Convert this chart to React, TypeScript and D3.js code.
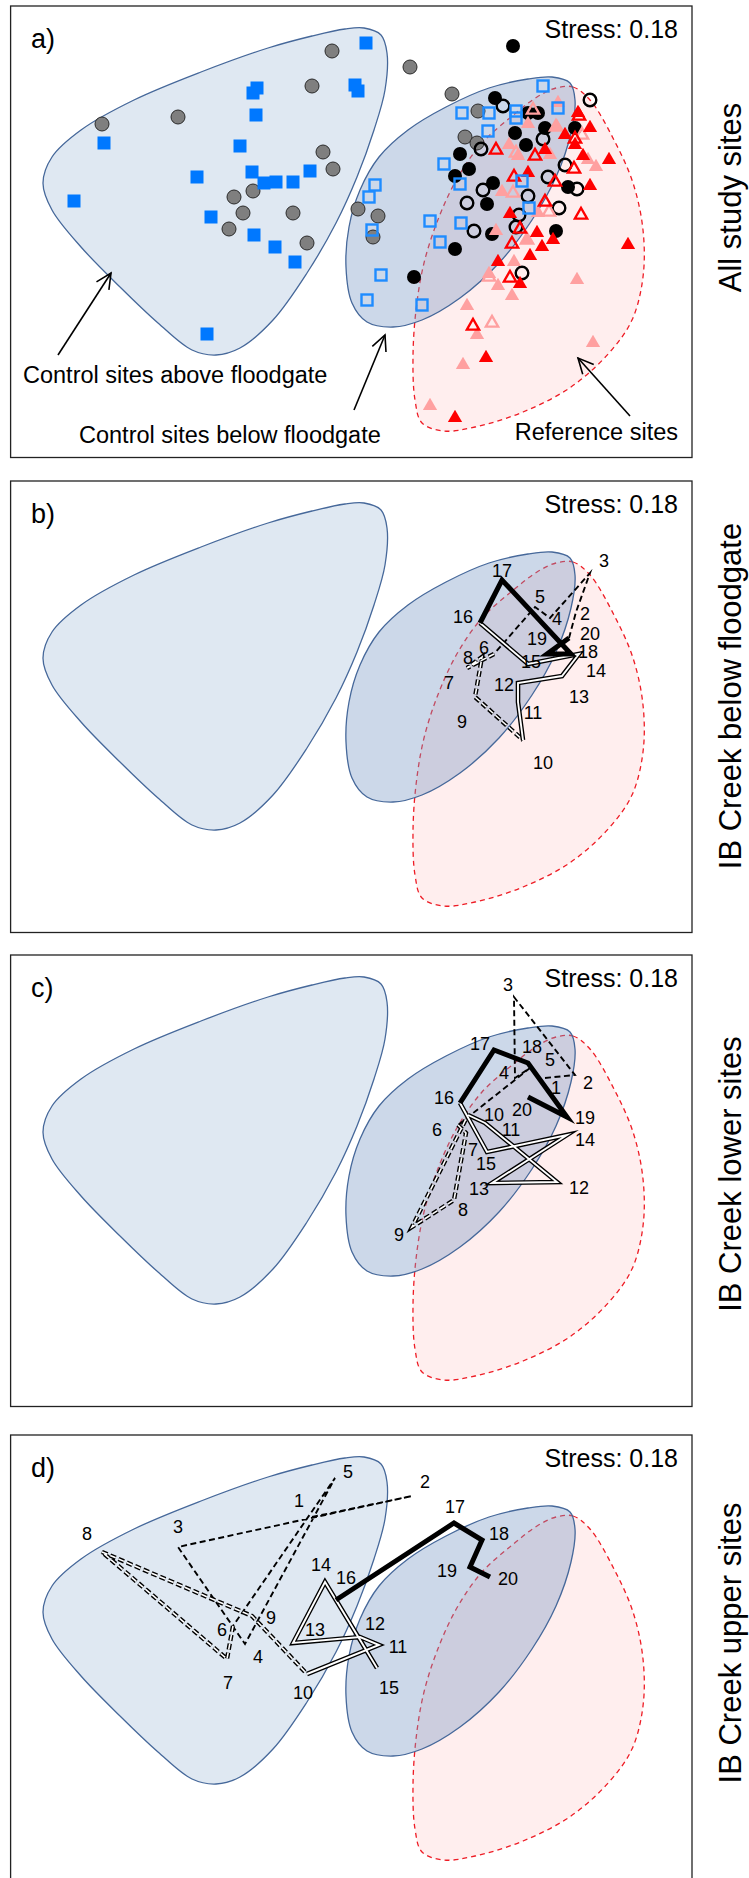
import React from 'react';
import * as d3 from 'd3';

type P = [number, number];

// ---------- layout constants ----------
const W = 749;
const H = 1878;
const FONT = '"Liberation Sans", Arial, Helvetica, sans-serif';
const PANEL_LEFT = 10.6;
const PANEL_RIGHT = 692;
const PANEL_H = 451.5;
const panelTops = [6, 481, 955, 1435];
const sideLabelCenters = [197.5, 696, 1174, 1643];

// ---------- text ----------
const panelLetters = ['a)', 'b)', 'c)', 'd)'];
const sideLabels = ['All study sites', 'IB Creek below floodgate', 'IB Creek lower sites', 'IB Creek upper sites'];
const stressText = 'Stress: 0.18';

// NMDS axis limits (axis 1, axis 2)
const xLim: P = [-3.394, 3.42];
const yLim: P = [-2.265, 2.25];

// ---------- group hulls (NMDS1, NMDS2) ----------
const hullAbove: P[] = [
  [-0.05, 2.02], [0.14, 2.03], [0.31, 1.96], [0.37, 1.78], [0.35, 1.41], [0.24, 1.01], [0.07, 0.54],
  [-0.14, 0.08], [-0.43, -0.42], [-0.77, -0.89], [-1.10, -1.17], [-1.34, -1.24], [-1.58, -1.19],
  [-1.92, -0.92], [-2.30, -0.56], [-2.69, -0.16], [-2.98, 0.21], [-3.07, 0.48], [-2.98, 0.74],
  [-2.69, 1.01], [-2.16, 1.31], [-1.49, 1.59], [-0.82, 1.83], [-0.38, 1.95],
];
const hullBelow: P[] = [
  [1.78, 1.52], [2.02, 1.54], [2.20, 1.48], [2.25, 1.31], [2.21, 0.98], [2.06, 0.54], [1.82, 0.11],
  [1.49, -0.32], [1.10, -0.67], [0.72, -0.89], [0.43, -0.96], [0.17, -0.91], [0.02, -0.72],
  [-0.04, -0.36], [-0.01, 0.04], [0.10, 0.41], [0.29, 0.74], [0.58, 1.01], [0.96, 1.24], [1.39, 1.43],
];
const hullRef: P[] = [
  [2.06, 1.43], [2.23, 1.44], [2.40, 1.31], [2.64, 0.91], [2.83, 0.48], [2.93, 0.01], [2.93, -0.46],
  [2.82, -0.89], [2.59, -1.22], [2.21, -1.56], [1.73, -1.81], [1.25, -1.96], [0.94, -2.00],
  [0.72, -1.92], [0.65, -1.69], [0.63, -1.26], [0.66, -0.79], [0.74, -0.32], [0.89, 0.14],
  [1.08, 0.54], [1.32, 0.88], [1.61, 1.14], [1.87, 1.34],
];

// ---------- panel a: site scores ----------
const aboveSquares: P[] = [
  [0.16, 1.88], [-0.93, 1.43], [-0.97, 1.38], [0.05, 1.46], [0.08, 1.40], [-0.94, 1.16], [-2.46, 0.88],
  [-1.10, 0.85], [-1.53, 0.54], [-0.98, 0.59], [-0.86, 0.48], [-0.74, 0.49], [-0.57, 0.49], [-0.40, 0.60],
  [-2.76, 0.30], [-1.39, 0.14], [-0.96, -0.04], [-0.75, -0.16], [-0.55, -0.31], [-1.43, -1.03],
];
const aboveCircles: P[] = [
  [-0.18, 1.80], [0.60, 1.64], [-0.38, 1.45], [1.02, 1.37], [1.28, 1.20], [1.15, 0.94], [1.27, 0.88],
  [-0.27, 0.79], [-0.17, 0.62], [-0.57, 0.18], [-0.43, -0.12], [0.08, 0.22], [0.28, 0.15], [0.23, -0.06],
  [-1.72, 1.14], [-2.48, 1.07], [-1.16, 0.34], [-0.97, 0.40], [-1.07, 0.18], [-1.21, 0.02],
];
const belowSquares: P[] = [
  [1.93, 1.45], [2.08, 1.23], [1.12, 1.18], [1.39, 1.18], [1.66, 1.20], [1.66, 1.13], [1.38, 1.00],
  [0.94, 0.67], [1.10, 0.47], [1.72, 0.50], [1.79, 0.23], [0.80, 0.10], [1.11, 0.08], [0.90, -0.11],
  [0.25, 0.46], [0.19, 0.34], [0.22, 0.01], [0.31, -0.44], [0.17, -0.69], [0.72, -0.74],
];
const belowFilledCircles: P[] = [
  [1.63, 1.85], [1.45, 1.33], [1.78, 1.18], [1.88, 1.18], [1.95, 1.03], [1.76, 0.86], [1.65, 0.98],
  [1.10, 0.77], [1.19, 0.62], [1.05, 0.55], [1.43, 0.48], [1.37, 0.27], [2.18, 0.44], [2.06, 0.00],
  [1.42, -0.03], [1.05, -0.18], [0.64, -0.46], [2.25, 1.03],
];
const belowOpenCircles: P[] = [
  [1.53, 1.25], [2.40, 1.31], [1.31, 0.82], [1.93, 0.92], [2.15, 0.66], [1.33, 0.41], [1.98, 0.54],
  [2.27, 0.42], [1.17, 0.28], [1.78, 0.35], [2.09, 0.23], [1.69, 0.16], [1.24, 0.00], [1.66, 0.04],
  [1.72, -0.42],
];
const refRedFilled: P[] = [
  [2.28, 1.18], [2.40, 1.03], [2.15, 0.96], [2.33, 0.75], [2.59, 0.71], [2.40, 0.45], [2.78, -0.14],
  [1.60, 0.17], [1.78, 0.58], [1.87, -0.02], [1.92, -0.16], [1.80, -0.25], [1.48, -0.31], [1.70, -0.53],
  [1.36, -1.27], [1.05, -1.87], [2.03, -0.09], [2.25, 0.86], [1.95, 0.81],
];
const refRedOpen: P[] = [
  [1.46, 0.81], [1.85, 0.75], [2.29, 1.15], [2.25, 0.92], [1.64, 0.54], [2.05, 0.49], [1.95, 0.29],
  [2.31, 0.16], [1.62, -0.13], [1.70, 0.02], [2.24, 0.62], [1.60, -0.47], [1.23, -0.95],
];
const refPinkFilled: P[] = [
  [2.08, 1.28], [1.78, 1.07], [2.07, 1.04], [1.59, 0.86], [1.68, 0.75], [2.00, 0.76], [2.38, 0.71],
  [2.46, 0.64], [1.52, 0.39], [1.46, 0.00], [1.64, -0.31], [1.48, -0.55], [1.62, -0.65], [1.39, -0.43],
  [1.17, -0.75], [1.27, -1.04], [1.13, -1.34], [2.27, -0.49], [2.43, -1.12], [0.80, -1.75], [1.77, -0.09],
  [1.88, 0.18],
];
const refPinkOpen: P[] = [
  [1.66, 0.78], [2.06, 1.04], [2.32, 0.96], [1.63, 0.38], [1.77, -0.09], [1.39, -0.46], [1.42, -0.92],
  [1.99, 0.19], [1.83, 1.21],
];

// panel a annotations: text, anchor point, arrow from, arrow to
const annoTexts = ['Control sites above floodgate', 'Control sites below floodgate', 'Reference sites'];
const annoAnchors: P[] = [[-3.27, -1.52], [-2.71, -2.12], [3.28, -2.09]];
const annoAlign = ['start', 'start', 'end'];
const arrowFrom: P[] = [[-2.92, -1.24], [0.04, -1.79], [2.80, -1.85]];
const arrowTo: P[] = [[-2.39, -0.42], [0.35, -1.04], [2.28, -1.27]];

// ---------- trajectories, sampling times 1..20 ----------
const trajB: P[] = [
  [2.19, 0.68], [2.26, 0.94], [2.40, 1.33], [2.00, 0.88], [1.85, 0.99], [1.44, 0.52], [1.17, 0.38],
  [1.32, 0.49], [1.25, 0.09], [1.73, -0.34], [1.68, 0.04], [1.68, 0.23], [2.12, 0.30], [2.29, 0.52],
  [1.78, 0.42], [1.30, 0.83], [1.52, 1.26], [2.21, 0.52], [1.97, 0.52], [2.19, 0.68],
];
const labelsB: [string, number, number][] = [
  ['2', 2.35, 0.92], ['3', 2.54, 1.45], ['4', 2.07, 0.87], ['5', 1.90, 1.09], ['6', 1.34, 0.58],
  ['7', 0.99, 0.23], ['8', 1.18, 0.48], ['9', 1.12, -0.16], ['10', 1.93, -0.57], ['11', 1.83, -0.07],
  ['12', 1.54, 0.21], ['13', 2.29, 0.09], ['14', 2.46, 0.355], ['15', 1.81, 0.44], ['16', 1.13, 0.89],
  ['17', 1.52, 1.35], ['18', 2.38, 0.545], ['19', 1.87, 0.67], ['20', 2.40, 0.72],
];
const trajC: P[] = [
  [1.95, 1.02], [2.25, 1.05], [1.64, 1.83], [1.65, 1.02], [1.80, 1.12], [1.08, 0.55], [1.16, 0.47],
  [1.04, -0.20], [0.62, -0.47], [1.18, 0.65], [1.35, 0.57], [2.07, -0.02], [1.42, -0.03], [2.17, 0.45],
  [1.37, 0.28], [1.10, 0.77], [1.44, 1.30], [1.78, 1.17], [2.17, 0.63], [1.78, 0.83],
];
const labelsC: [string, number, number][] = [
  ['1', 2.06, 0.92], ['2', 2.38, 0.97], ['3', 1.58, 1.95], ['4', 1.54, 1.07], ['5', 2.00, 1.20],
  ['6', 0.87, 0.50], ['7', 1.23, 0.30], ['8', 1.13, -0.30], ['9', 0.49, -0.55], ['10', 1.44, 0.65],
  ['11', 1.61, 0.50], ['12', 2.29, -0.08], ['13', 1.29, -0.09], ['14', 2.35, 0.40], ['15', 1.36, 0.16],
  ['16', 0.94, 0.82], ['17', 1.30, 1.36], ['18', 1.82, 1.33], ['19', 2.35, 0.62], ['20', 1.72, 0.70],
];
const trajD: P[] = [
  [-0.38, 1.43], [0.62, 1.64], [-1.72, 1.13], [-1.05, 0.16], [-0.15, 1.82], [-1.17, 0.34], [-1.23, 0.01],
  [-2.48, 1.08], [-0.98, 0.44], [-0.43, -0.14], [0.29, 0.15], [0.10, 0.23], [-0.57, 0.17], [-0.25, 0.78],
  [0.27, -0.08], [-0.14, 0.60], [1.04, 1.37], [1.32, 1.20], [1.20, 0.93], [1.40, 0.83],
];
const labelsD: [string, number, number][] = [
  ['1', -0.51, 1.59], ['2', 0.75, 1.78], ['3', -1.72, 1.33], ['4', -0.92, 0.03], ['5', -0.02, 1.88],
  ['6', -1.28, 0.30], ['7', -1.22, -0.23], ['8', -2.63, 1.26], ['9', -0.79, 0.42], ['10', -0.47, -0.33],
  ['11', 0.48, 0.13], ['12', 0.25, 0.36], ['13', -0.35, 0.30], ['14', -0.29, 0.95], ['15', 0.39, -0.28],
  ['16', -0.04, 0.82], ['17', 1.05, 1.53], ['18', 1.49, 1.26], ['19', 0.97, 0.89], ['20', 1.58, 0.81],
];
const trajectories = [null, trajB, trajC, trajD];
const trajLabels = [null, labelsB, labelsC, labelsD];

// segments of each trajectory: [first index, last index, style]
const segments: [number, number, string][] = [
  [0, 5, 'dash'],
  [5, 9, 'ddash'],
  [9, 15, 'hollow'],
  [15, 19, 'thick'],
];

const xScale = d3.scaleLinear().domain(xLim).range([PANEL_LEFT, PANEL_RIGHT]);

function Hulls({ y }: { y: d3.ScaleLinear<number, number> }) {
  const line = d3
    .line<P>()
    .x((d) => xScale(d[0]))
    .y((d) => y(d[1]))
    .curve(d3.curveCatmullRomClosed.alpha(0.5));
  return (
    <g>
      <path d={line(hullAbove) || ''} fill="#dfe8f2" stroke="#46689a" strokeWidth={1.3} />
      <path d={line(hullRef) || ''} fill="rgba(255,170,170,0.2)" stroke="#ee1c25" strokeWidth={1.3} strokeDasharray="5,4" />
      <path d={line(hullBelow) || ''} fill="rgba(120,152,196,0.38)" stroke="#46689a" strokeWidth={1.3} />
    </g>
  );
}

const triPath = d3.symbol(d3.symbolTriangle, 88)() || '';
const triPathOpen = d3.symbol(d3.symbolTriangle, 66)() || '';

function Points({ y }: { y: d3.ScaleLinear<number, number> }) {
  const X = (d: P) => xScale(d[0]);
  const Y = (d: P) => y(d[1]);
  return (
    <g>
      {aboveCircles.map((d, i) => (
        <circle key={'gc' + i} cx={X(d)} cy={Y(d)} r={7} fill="#7f7f7f" stroke="#2a2a2a" strokeWidth={1} />
      ))}
      {aboveSquares.map((d, i) => (
        <rect key={'bs' + i} x={X(d) - 6.5} y={Y(d) - 6.5} width={13} height={13} fill="#0078ff" />
      ))}
      {belowFilledCircles.map((d, i) => (
        <circle key={'kc' + i} cx={X(d)} cy={Y(d)} r={7} fill="#000" />
      ))}
      {belowOpenCircles.map((d, i) => (
        <circle key={'ko' + i} cx={X(d)} cy={Y(d)} r={6.3} fill="none" stroke="#000" strokeWidth={2.4} />
      ))}
      {refPinkFilled.map((d, i) => (
        <path key={'pf' + i} d={triPath} transform={`translate(${X(d)},${Y(d)})`} fill="#ffa0a0" />
      ))}
      {refPinkOpen.map((d, i) => (
        <path key={'po' + i} d={triPathOpen} transform={`translate(${X(d)},${Y(d)})`} fill="none" stroke="#ffa0a0" strokeWidth={2.3} />
      ))}
      {refRedFilled.map((d, i) => (
        <path key={'rf' + i} d={triPath} transform={`translate(${X(d)},${Y(d)})`} fill="#ff0000" />
      ))}
      {refRedOpen.map((d, i) => (
        <path key={'ro' + i} d={triPathOpen} transform={`translate(${X(d)},${Y(d)})`} fill="none" stroke="#ff0000" strokeWidth={2.3} />
      ))}
      {belowSquares.map((d, i) => (
        <rect key={'bo' + i} x={X(d) - 5.5} y={Y(d) - 5.5} width={11} height={11} fill="none" stroke="#1e8cff" strokeWidth={2.4} />
      ))}
    </g>
  );
}

function Annotations({ y }: { y: d3.ScaleLinear<number, number> }) {
  return (
    <g>
      {annoTexts.map((t, i) => (
        <text key={'at' + i} x={xScale(annoAnchors[i][0])} y={y(annoAnchors[i][1])} textAnchor={annoAlign[i] as any}
          fontFamily={FONT} fontSize={23.5} fill="#000">{t}</text>
      ))}
      {arrowFrom.map((f, i) => {
        const x1 = xScale(f[0]), y1 = y(f[1]);
        const x2 = xScale(arrowTo[i][0]), y2 = y(arrowTo[i][1]);
        const ang = Math.atan2(y2 - y1, x2 - x1);
        const L = 17, spread = 0.45;
        const a1 = ang + Math.PI - spread, a2 = ang + Math.PI + spread;
        return (
          <g key={'ar' + i} stroke="#000" strokeWidth={1.6} fill="none">
            <line x1={x1} y1={y1} x2={x2} y2={y2} />
            <polyline points={`${x2 + L * Math.cos(a1)},${y2 + L * Math.sin(a1)} ${x2},${y2} ${x2 + L * Math.cos(a2)},${y2 + L * Math.sin(a2)}`} />
          </g>
        );
      })}
    </g>
  );
}

function Trajectory({ y, pts, labels }: { y: d3.ScaleLinear<number, number>; pts: P[]; labels: [string, number, number][] }) {
  const line = d3.line<P>().x((d) => xScale(d[0])).y((d) => y(d[1]));
  const part = (a: number, b: number) => line(pts.slice(a, b + 1)) || '';
  return (
    <g fill="none" strokeLinejoin="miter" strokeMiterlimit={6}>
      {segments.map(([a, b, style], i) => {
        const d = part(a, b);
        if (style === 'dash') return <path key={i} d={d} stroke="#000" strokeWidth={1.9} strokeDasharray="6,3.5" />;
        if (style === 'ddash')
          return (
            <g key={i}>
              <path d={d} stroke="#000" strokeWidth={4.4} strokeDasharray="6,3" />
              <path d={d} stroke="#fff" strokeWidth={1.6} strokeDasharray="6,3" />
            </g>
          );
        if (style === 'hollow')
          return (
            <g key={i}>
              <path d={d} stroke="#000" strokeWidth={4.6} />
              <path d={d} stroke="#fff" strokeWidth={1.9} />
            </g>
          );
        return <path key={i} d={d} stroke="#000" strokeWidth={5} />;
      })}
      {labels.map(([t, lx, ly], i) => (
        <text key={'l' + i} x={xScale(lx)} y={y(ly)} textAnchor="middle" dominantBaseline="central"
          fontFamily={FONT} fontSize={18} fill="#000" stroke="none">{t}</text>
      ))}
    </g>
  );
}

function Panel({ k }: { k: number }) {
  const top = panelTops[k];
  const y = d3.scaleLinear().domain(yLim).range([top + PANEL_H, top]);
  const pts = trajectories[k];
  const labels = trajLabels[k];
  return (
    <g>
      <defs>
        <clipPath id={'clip' + k}>
          <rect x={PANEL_LEFT} y={top} width={PANEL_RIGHT - PANEL_LEFT} height={PANEL_H} />
        </clipPath>
      </defs>
      <g clipPath={`url(#clip${k})`}>
        <Hulls y={y} />
        {k === 0 ? <Points y={y} /> : null}
        {k === 0 ? <Annotations y={y} /> : null}
        {pts && labels ? <Trajectory y={y} pts={pts} labels={labels} /> : null}
      </g>
      <rect x={PANEL_LEFT} y={top} width={PANEL_RIGHT - PANEL_LEFT} height={PANEL_H} fill="none" stroke="#222" strokeWidth={1.3} />
      <text x={31} y={top + 42} fontFamily={FONT} fontSize={27} fill="#000">{panelLetters[k]}</text>
      <text x={678} y={top + 32} textAnchor="end" fontFamily={FONT} fontSize={25} fill="#000">{stressText}</text>
      <text transform={`translate(741,${sideLabelCenters[k]}) rotate(-90)`} textAnchor="middle" fontFamily={FONT}
        fontSize={31} fill="#000">{sideLabels[k]}</text>
    </g>
  );
}

export default function App() {
  return (
    <div style={{ position: 'absolute', left: 0, top: 0, width: W, height: H, background: '#fff' }}>
      <svg width={W} height={H} style={{ display: 'block', background: '#fff' }}>
        {panelTops.map((_, k) => (
          <Panel key={k} k={k} />
        ))}
      </svg>
    </div>
  );
}
